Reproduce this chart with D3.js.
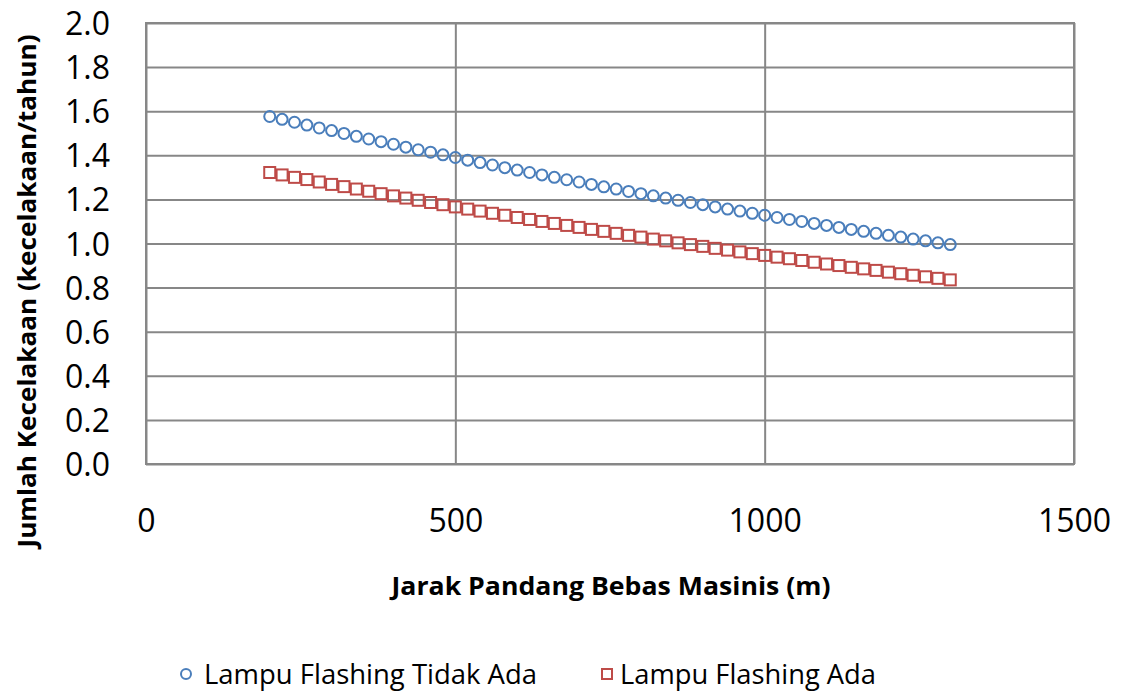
<!DOCTYPE html>
<html>
<head>
<meta charset="utf-8">
<script src="https://cdn.jsdelivr.net/npm/d3@7"></script>
<style>
  html, body { margin: 0; padding: 0; background: #fff; }
  svg { display: block; font-family: "Open Sans", "Liberation Sans", sans-serif; }
</style>
</head>
<body>
<svg id="chart" width="1124" height="692"></svg>
<script>
// Jarak pandang (m)
const jarak = [200, 220, 240, 260, 280, 300, 320, 340, 360, 380, 400, 420, 440, 460, 480,
  500, 520, 540, 560, 580, 600, 620, 640, 660, 680, 700, 720, 740, 760, 780, 800, 820, 840,
  860, 880, 900, 920, 940, 960, 980, 1000, 1020, 1040, 1060, 1080, 1100, 1120, 1140, 1160,
  1180, 1200, 1220, 1240, 1260, 1280, 1300];

// Lampu Flashing Tidak Ada
const tidakAda = [1.576, 1.563, 1.550, 1.537, 1.524, 1.512, 1.499, 1.486, 1.474, 1.462, 1.450,
  1.437, 1.425, 1.414, 1.402, 1.390, 1.378, 1.367, 1.356, 1.344, 1.333, 1.322, 1.311, 1.300,
  1.289, 1.279, 1.268, 1.257, 1.247, 1.236, 1.226, 1.216, 1.206, 1.196, 1.186, 1.176, 1.166,
  1.156, 1.147, 1.137, 1.128, 1.118, 1.109, 1.100, 1.091, 1.082, 1.073, 1.064, 1.055, 1.046,
  1.037, 1.029, 1.020, 1.012, 1.003, 0.995];

// Lampu Flashing Ada
const ada = [1.322, 1.311, 1.300, 1.290, 1.279, 1.268, 1.258, 1.247, 1.237, 1.226, 1.216,
  1.206, 1.196, 1.186, 1.176, 1.166, 1.156, 1.147, 1.137, 1.128, 1.118, 1.109, 1.100, 1.091,
  1.082, 1.073, 1.064, 1.055, 1.046, 1.037, 1.029, 1.020, 1.012, 1.003, 0.995, 0.987, 0.978,
  0.970, 0.962, 0.954, 0.946, 0.938, 0.931, 0.923, 0.915, 0.907, 0.900, 0.892, 0.885, 0.878,
  0.870, 0.863, 0.856, 0.849, 0.842, 0.835];

const xTicks = [0, 500, 1000, 1500];
const yTicks = [0, 0.2, 0.4, 0.6, 0.8, 1.0, 1.2, 1.4, 1.6, 1.8, 2.0];

const seriesNames = ["Lampu Flashing Tidak Ada", "Lampu Flashing Ada"];
const xTitle = "Jarak Pandang Bebas Masinis (m)";
const yTitle = "Jumlah Kecelakaan (kecelakaan/tahun)";

const BLUE = "#4A7EBB", RED = "#BE4B48", GRID = "#878787";

const svg = d3.select("#chart");
const plot = { left: 146, right: 1074, top: 23, bottom: 464 };

const x = d3.scaleLinear().domain([0, 1500]).range([plot.left, plot.right]);
const y = d3.scaleLinear().domain([0, 2]).range([plot.bottom, plot.top]);

// horizontal gridlines + left axis labels
const yAxis = d3.axisLeft(y).tickValues(yTicks)
  .tickSize(-(plot.right - plot.left)).tickPadding(36)
  .tickFormat(d3.format(".1f"));
const gy = svg.append("g").attr("transform", `translate(${plot.left},0)`).call(yAxis);
gy.select(".domain").remove();
gy.selectAll(".tick line").attr("stroke", GRID).attr("stroke-width", 2);
gy.selectAll(".tick text").attr("font-size", 32).attr("fill", "#000")
  .attr("font-family", "'Open Sans', sans-serif").attr("dy", "0.36em");

// vertical gridlines + bottom axis labels
const xAxis = d3.axisBottom(x).tickValues(xTicks)
  .tickSize(-(plot.bottom - plot.top)).tickPadding(45)
  .tickFormat(d3.format("d"));
const gx = svg.append("g").attr("transform", `translate(0,${plot.bottom})`).call(xAxis);
gx.select(".domain").remove();
gx.selectAll(".tick line").attr("stroke", GRID).attr("stroke-width", 2);
gx.selectAll(".tick text").attr("font-size", 32).attr("fill", "#000")
  .attr("font-family", "'Open Sans', sans-serif");

// plot frame
svg.append("rect")
  .attr("x", plot.left).attr("y", plot.top)
  .attr("width", plot.right - plot.left).attr("height", plot.bottom - plot.top)
  .attr("fill", "none").attr("stroke", GRID).attr("stroke-width", 2);

// series: open circles
svg.append("g").selectAll("circle")
  .data(jarak.map((d, i) => [d, tidakAda[i]]))
  .join("circle")
  .attr("cx", d => x(d[0])).attr("cy", d => y(d[1])).attr("r", 5.5)
  .attr("fill", "none").attr("stroke", BLUE).attr("stroke-width", 2);

// series: open squares
const sq = 11;
svg.append("g").selectAll("rect")
  .data(jarak.map((d, i) => [d, ada[i]]))
  .join("rect")
  .attr("x", d => x(d[0]) - sq / 2).attr("y", d => y(d[1]) - sq / 2)
  .attr("width", sq).attr("height", sq)
  .attr("fill", "none").attr("stroke", RED).attr("stroke-width", 2);

// axis titles
svg.append("text")
  .attr("x", (plot.left + plot.right) / 2 + 1).attr("y", 595)
  .attr("text-anchor", "middle").attr("font-size", 25).attr("font-weight", "bold")
  .attr("textLength", 439).attr("lengthAdjust", "spacingAndGlyphs")
  .text(xTitle);

svg.append("text")
  .attr("transform", "translate(36,291) rotate(-90)")
  .attr("text-anchor", "middle").attr("font-size", 25).attr("font-weight", "bold")
  .attr("textLength", 513).attr("lengthAdjust", "spacingAndGlyphs")
  .text(yTitle);

// legend
const legend = svg.append("g");
legend.append("circle").attr("cx", 186).attr("cy", 674).attr("r", 5)
  .attr("fill", "none").attr("stroke", BLUE).attr("stroke-width", 2);
legend.append("text").attr("x", 204).attr("y", 684).attr("font-size", 28)
  .attr("textLength", 333).attr("lengthAdjust", "spacingAndGlyphs")
  .text(seriesNames[0]);
legend.append("rect").attr("x", 602).attr("y", 669).attr("width", 10).attr("height", 10)
  .attr("fill", "none").attr("stroke", RED).attr("stroke-width", 2);
legend.append("text").attr("x", 620).attr("y", 684).attr("font-size", 28)
  .attr("textLength", 256).attr("lengthAdjust", "spacingAndGlyphs")
  .text(seriesNames[1]);
</script>
</body>
</html>
